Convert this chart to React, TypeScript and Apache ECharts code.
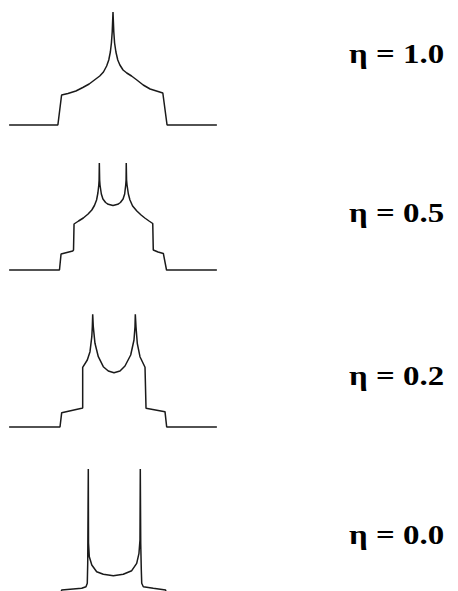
import React, { useEffect, useRef } from "react";
import * as echarts from "echarts";

// Powder line shapes: [frequency offset (units of the outer edge), intensity]
const etaOne: number[][] = [
  [-1.96, 0], [-1.04, 0], [-0.97, 0.30], [-0.85, 0.315], [-0.70, 0.34], [-0.57, 0.375],
  [-0.45, 0.41], [-0.35, 0.45], [-0.25, 0.49], [-0.18, 0.53], [-0.12, 0.59], [-0.08, 0.65],
  [-0.05, 0.73], [-0.03, 0.82], [-0.015, 0.93], [0, 1.13], [0.015, 0.93], [0.03, 0.82],
  [0.055, 0.73], [0.09, 0.65], [0.13, 0.6], [0.19, 0.55], [0.26, 0.52], [0.35, 0.49],
  [0.45, 0.45], [0.57, 0.4], [0.7, 0.36], [0.85, 0.335], [0.94, 0.32], [1.02, 0], [1.96, 0],
];

const etaHalf: number[][] = [
  [-1.96, 0], [-1.01, 0], [-0.98, 0.16], [-0.87, 0.175], [-0.76, 0.19], [-0.745, 0.2],
  [-0.735, 0.46], [-0.65, 0.49], [-0.56, 0.52], [-0.47, 0.56], [-0.4, 0.6], [-0.35, 0.645],
  [-0.31, 0.7], [-0.285, 0.77], [-0.268, 0.85], [-0.262, 0.9], [-0.258, 1.07], [-0.252, 0.9],
  [-0.245, 0.85], [-0.22, 0.76], [-0.19, 0.71], [-0.14, 0.675], [-0.09, 0.657], [0, 0.645],
  [0.09, 0.657], [0.14, 0.675], [0.19, 0.71], [0.22, 0.76], [0.24, 0.85], [0.247, 0.9],
  [0.25, 1.07], [0.256, 0.9], [0.265, 0.85], [0.29, 0.76], [0.32, 0.7], [0.37, 0.64],
  [0.45, 0.59], [0.53, 0.55], [0.6, 0.52], [0.68, 0.49], [0.75, 0.465], [0.76, 0.2],
  [0.85, 0.18], [0.95, 0.165], [1.01, 0], [1.96, 0],
];

const etaFifth: number[][] = [
  [-1.96, 0], [-1.0, 0], [-0.968, 0.143], [-0.59, 0.187], [-0.572, 0.19], [-0.572, 0.597],
  [-0.485, 0.67], [-0.434, 0.753], [-0.4, 0.903], [-0.39, 1.003], [-0.383, 1.127],
  [-0.372, 1.003], [-0.34, 0.837], [-0.277, 0.703], [-0.183, 0.603], [-0.089, 0.56],
  [0.019, 0.543], [0.132, 0.56], [0.226, 0.61], [0.334, 0.72], [0.396, 0.87], [0.415, 1.003],
  [0.421, 1.127], [0.434, 1.003], [0.458, 0.837], [0.509, 0.703], [0.604, 0.597],
  [0.623, 0.187], [0.981, 0.153], [1.013, 0], [1.96, 0],
];

const etaZero: number[][] = [
  [-1.96, 0], [-1.0, 0], [-0.97, 0.11], [-0.59, 0.127], [-0.51, 0.143], [-0.485, 0.177],
  [-0.477, 0.377], [-0.466, 1.32], [-0.462, 0.58], [-0.447, 0.443], [-0.4, 0.36],
  [-0.308, 0.293], [-0.183, 0.267], [0.006, 0.253], [0.194, 0.267], [0.353, 0.303],
  [0.447, 0.377], [0.49, 0.477], [0.509, 0.61], [0.515, 1.32], [0.523, 0.58], [0.534, 0.31],
  [0.542, 0.177], [0.572, 0.143], [0.76, 0.127], [0.994, 0.11], [1.01, 0], [1.96, 0],
];

const spectra = [etaOne, etaHalf, etaFifth, etaZero];
const etaLabels = ["η = 1.0", "η = 0.5", "η = 0.2", "η = 0.0"];

// Panel placement: pixel row of the intensity-zero line and the visible intensity window
const panelBaselines = [125, 270, 427, 601];
const panelMinIntensity = [0, 0, 0, 0.1];
const panelMaxIntensity = [1.2, 1.2, 1.2, 1.4];
const labelCenters = [54.5, 213, 376.5, 535];
const PX_PER_UNIT = 100;

export default function App() {
  const ref = useRef<HTMLDivElement>(null);

  useEffect(() => {
    if (!ref.current) return;
    const chart = echarts.init(ref.current, undefined, { renderer: "svg" });

    const grids = spectra.map((_, i) => ({
      left: 7,
      width: 212,
      top: panelBaselines[i] - panelMaxIntensity[i] * PX_PER_UNIT,
      height: (panelMaxIntensity[i] - panelMinIntensity[i]) * PX_PER_UNIT,
      containLabel: false,
    }));

    const xAxes = spectra.map((_, i) => ({
      type: "value" as const,
      gridIndex: i,
      min: -2,
      max: 2,
      show: false,
    }));

    const yAxes = spectra.map((_, i) => ({
      type: "value" as const,
      gridIndex: i,
      min: panelMinIntensity[i],
      max: panelMaxIntensity[i],
      show: false,
    }));

    const series = spectra.map((data, i) => ({
      type: "line" as const,
      xAxisIndex: i,
      yAxisIndex: i,
      data,
      showSymbol: false,
      symbol: "none",
      smooth: false,
      clip: false,
      lineStyle: { color: "#1a1a1a", width: 1.5 },
    }));

    const labels = etaLabels.map((text, i) => ({
      type: "text" as const,
      x: 349,
      y: labelCenters[i],
      scaleX: 1.22,
      style: {
        text,
        x: 0,
        y: 0,
        fill: "#000",
        fontFamily: "Liberation Serif",
        fontWeight: "bold",
        fontSize: 27,
        align: "left",
        verticalAlign: "middle",
        shadowColor: "rgba(0,0,0,0.3)",
        shadowBlur: 2,
        shadowOffsetX: 2,
        shadowOffsetY: 2,
      },
    }));

    chart.setOption({
      animation: false,
      backgroundColor: "#ffffff",
      grid: grids,
      xAxis: xAxes,
      yAxis: yAxes,
      series,
      graphic: labels,
    });

    return () => chart.dispose();
  }, []);

  return (
    <div
      ref={ref}
      style={{ position: "fixed", left: 0, top: 0, width: 458, height: 591 }}
    />
  );
}
